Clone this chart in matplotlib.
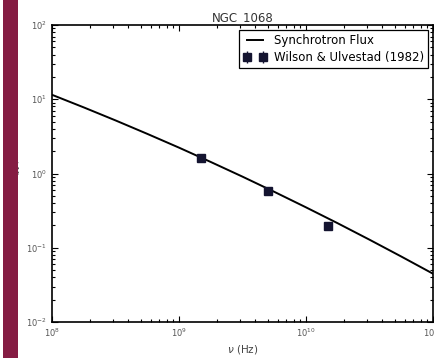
import matplotlib
matplotlib.use("Agg")
import matplotlib.pyplot as plt
from matplotlib.patches import Rectangle

# Synchrotron model curve (frequency in Hz, flux in Jy)
model_freq = [1e8, 1.778e8, 3.162e8, 5.623e8, 1e9, 1.778e9, 3.162e9, 5.623e9,
              1e10, 1.778e10, 3.162e10, 5.623e10, 1e11]
model_flux = [11.48, 7.77, 5.19, 3.42, 2.23, 1.43, 0.907, 0.567,
              0.350, 0.2136, 0.1284, 0.0762, 0.0447]

# Wilson & Ulvestad (1982) measurements
obs_freq = [1.5e9, 5.0e9, 1.5e10]
obs_flux = [1.62, 0.59, 0.195]
obs_err = [0.08, 0.03, 0.01]

title = "NGC_1068"
xlabel = r"$\nu$ (Hz)"
ylabel = r"$F_\nu$ (Jy)"

fig = plt.figure(figsize=(4.34, 3.58), dpi=100)
ax = fig.add_axes([52/434, 1 - 322/358, 381/434, 297/358])

ax.plot(model_freq, model_flux, color="black", lw=1.4, label="Synchrotron Flux")
ax.errorbar(obs_freq, obs_flux, yerr=obs_err, fmt="s", color="#141430",
            ms=5.5, ecolor="#141430", capsize=0, lw=1,
            label="Wilson & Ulvestad (1982)")

ax.set_xscale("log")
ax.set_yscale("log")
ax.set_xlim(1e8, 1e11)
ax.set_ylim(1e-2, 1e2)

ax.set_title(title, fontsize=8.5, color="#333333", pad=3)
ax.set_xlabel(xlabel, fontsize=7.5, color="#444444", labelpad=3)
ax.set_ylabel(ylabel, fontsize=7, color="#444444")
ax.yaxis.set_label_coords(-0.08, 0.5)

ax.tick_params(which="both", direction="in", top=True, right=True,
               labelsize=6, labelcolor="#555555", width=0.8)
ax.tick_params(which="major", length=4)
ax.tick_params(which="minor", length=2)
for s in ax.spines.values():
    s.set_linewidth(1.2)

leg = ax.legend(loc="upper right", fontsize=8.5, numpoints=2, fancybox=False,
                framealpha=1, edgecolor="black", borderaxespad=0.4,
                handlelength=2.0, labelspacing=0.35, borderpad=0.35,
                handletextpad=0.6)
leg.get_frame().set_linewidth(0.9)

# decorative side band
fig.patches.append(Rectangle((3/434, 0), 15/434, 1, transform=fig.transFigure,
                             facecolor="#851c43", edgecolor="none", zorder=10))

fig.savefig("out.png", dpi=100)
